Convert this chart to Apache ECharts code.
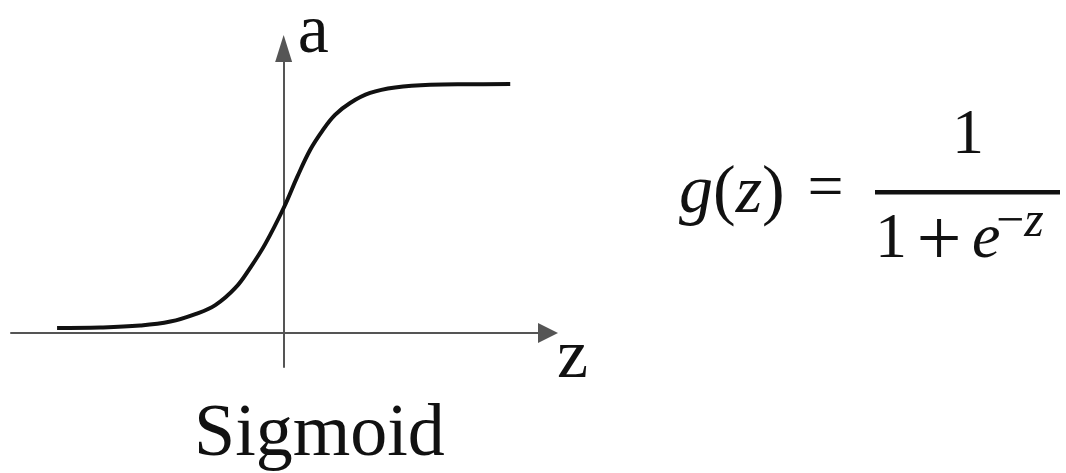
<!DOCTYPE html>
<html>
<head>
<meta charset="utf-8">
<script src="https://cdn.jsdelivr.net/npm/echarts@6/dist/echarts.min.js"></script>
<style>
	html, body { margin: 0; padding: 0; background: #fff; }
	#sigmoidCanvas { width: 1066px; height: 473px; }
</style>
</head>
<body>
<div id="sigmoidCanvas"></div>
<script>
// curve: z along the horizontal axis, a = g(z)
var zValues = [-6, -4.86, -3.8, -3.0, -2.34, -1.81, -1.28, -0.89, -0.49, 0, 0.36, 0.7, 1.02, 1.36, 1.76, 2.29, 2.95, 3.88, 4.94, 6];
var aValues = [0.02, 0.022, 0.03, 0.046, 0.076, 0.112, 0.181, 0.261, 0.357, 0.502, 0.627, 0.735, 0.811, 0.876, 0.924, 0.964, 0.986, 0.997, 0.999, 1.0];
var zRange = [-7.22, 7.0];
var aRange = [-0.1365, 1.1426];
var axisNames = ['z', 'a'];
var titleText = 'Sigmoid';

var serif = 'Liberation Serif, DejaVu Serif, serif';
var ink = '#111';

var points = zValues.map(function (z, i) {
	return [z, aValues[i]];
});

function formulaText (x, y, text, size, align, italic, rich) {
	return {
		type: 'text', x: x, y: y,
		style: {
			text: text,
			fontSize: size,
			fontFamily: serif,
			fontStyle: italic ? 'italic' : 'normal',
			fill: ink,
			align: align, textAlign: align,
			verticalAlign: 'middle', textVerticalAlign: 'middle',
			rich: rich || {}
		}
	};
}

var myChart = echarts.init(document.getElementById('sigmoidCanvas'));
var option = {
	backgroundColor: '#fff',
	animation: false,
	title: {
		text: titleText,
		left: 189,
		top: 394,
		textStyle: {
			fontFamily: serif,
			fontSize: 74,
			fontWeight: 'normal',
			color: ink
		}
	},
	grid: {
		left: 11,
		right: 518,
		top: 48.5,
		bottom: 106,
		containLabel: false,
		outerBoundsMode: 'none'
	},
	xAxis: {
		type: 'value',
		min: zRange[0],
		max: zRange[1],
		name: axisNames[0],
		nameLocation: 'end',
		nameGap: 9,
		nameTextStyle: {
			fontFamily: serif,
			fontSize: 70,
			color: ink,
			align: 'left',
			verticalAlign: 'top',
			lineHeight: 52
		},
		axisLine: {
			show: true,
			onZero: true,
			symbol: ['none', 'triangle'],
			symbolSize: [20, 20],
			lineStyle: { color: '#555', width: 2 }
		},
		axisTick: { show: false },
		axisLabel: { show: false },
		splitLine: { show: false }
	},
	yAxis: {
		type: 'value',
		min: aRange[0],
		max: aRange[1],
		name: axisNames[1],
		nameLocation: 'end',
		nameGap: 14.5,
		nameTextStyle: {
			fontFamily: serif,
			fontSize: 70,
			color: ink,
			align: 'left',
			verticalAlign: 'middle',
			padding: [0, 0, 0, 14]
		},
		axisLine: {
			show: true,
			onZero: true,
			symbol: ['none', 'triangle'],
			symbolSize: [17, 27],
			lineStyle: { color: '#555', width: 2 }
		},
		axisTick: { show: false },
		axisLabel: { show: false },
		splitLine: { show: false }
	},
	series: [
		{
			name: 'g(z)',
			type: 'line',
			data: points,
			smooth: 0.4,
			showSymbol: false,
			lineStyle: { color: ink, width: 4 }
		}
	],
	// formula g(z) = 1 / (1 + e^-z)
	graphic: [
		formulaText(679, 194, '{i|g}({i|z})', 68, 'left', false, {
			i: { fontStyle: 'italic', fontSize: 68, fontFamily: serif, fill: ink }
		}),
		formulaText(825.5, 190, '=', 64, 'center'),
		{
			type: 'rect',
			shape: { x: 875, y: 190, width: 185, height: 4.5 },
			style: { fill: ink }
		},
		formulaText(968, 136, '1', 64, 'center'),
		formulaText(875, 240, '1', 64, 'left'),
		formulaText(939, 244, '+', 80, 'center'),
		formulaText(972, 240, 'e', 64, 'left', true),
		formulaText(996, 223, '\u2212{i|z}', 50, 'left', false, {
			i: { fontStyle: 'italic', fontSize: 50, fontFamily: serif, fill: ink }
		})
	]
};
myChart.setOption(option);
</script>
</body>
</html>
